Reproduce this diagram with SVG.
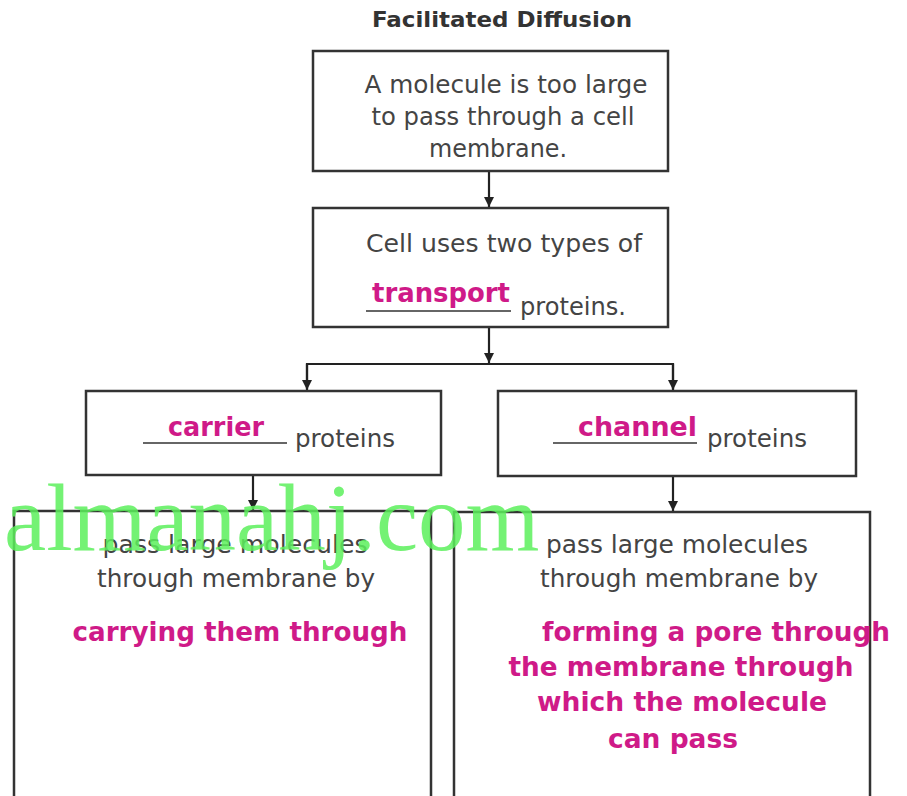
<svg xmlns="http://www.w3.org/2000/svg" width="907" height="796" viewBox="0 0 907 796">
  <defs>
    <marker id="arrow" viewBox="0 0 10 10" refX="10" refY="5" markerWidth="10" markerHeight="10" markerUnits="userSpaceOnUse" orient="auto">
      <path d="M0,0 L10,5 L0,10 z" fill="#222"/>
    </marker>
    <style>
      .box { fill: #fff; stroke: #333; stroke-width: 2.5; }
      .txt { font-family: "DejaVu Sans", "Liberation Sans", sans-serif; font-size: 24px; fill: #444; }
      .ans { font-family: "DejaVu Sans", "Liberation Sans", sans-serif; font-size: 26px; font-weight: bold; fill: #cf1a88; }
      .title { font-family: "DejaVu Sans", "Liberation Sans", sans-serif; font-size: 21px; font-weight: bold; fill: #333; }
      .blank { stroke: #333; stroke-width: 1.5; }
      .conn { stroke: #222; stroke-width: 2.2; fill: none; }
      .mark { font-family: "Liberation Serif", "Times New Roman", serif; font-size: 95px; fill: #5cf05c; opacity: 0.85; }
    </style>
  </defs>
  <rect width="907" height="796" fill="#fff"/>

  <text class="title" x="502" y="27" text-anchor="middle" textLength="260" lengthAdjust="spacingAndGlyphs">Facilitated Diffusion</text>

  <g id="connectors">
    <line class="conn" x1="489" y1="172" x2="489" y2="207" marker-end="url(#arrow)"/>
    <line class="conn" x1="489" y1="327" x2="489" y2="363" marker-end="url(#arrow)"/>
    <polyline class="conn" points="307,389 307,364 673,364 673,389"/>
    <line class="conn" x1="307" y1="364" x2="307" y2="390" marker-end="url(#arrow)"/>
    <line class="conn" x1="673" y1="364" x2="673" y2="390" marker-end="url(#arrow)"/>
    <line class="conn" x1="253" y1="475" x2="253" y2="510" marker-end="url(#arrow)"/>
    <line class="conn" x1="673" y1="476" x2="673" y2="511" marker-end="url(#arrow)"/>
  </g>

  <g id="problem">
    <rect class="box" x="313" y="51" width="355" height="120"/>
    <text class="txt" x="506" y="93" text-anchor="middle" textLength="283" lengthAdjust="spacingAndGlyphs">A molecule is too large</text>
    <text class="txt" x="503" y="125" text-anchor="middle" textLength="263" lengthAdjust="spacingAndGlyphs">to pass through a cell</text>
    <text class="txt" x="498" y="157" text-anchor="middle" textLength="138" lengthAdjust="spacingAndGlyphs">membrane.</text>
  </g>

  <g id="transport">
    <rect class="box" x="313" y="208" width="355" height="119"/>
    <text class="txt" x="504" y="252" text-anchor="middle" textLength="276" lengthAdjust="spacingAndGlyphs">Cell uses two types of</text>
    <text class="ans" x="372" y="302" textLength="138" lengthAdjust="spacingAndGlyphs">transport</text>
    <line class="blank" x1="366" y1="311" x2="511" y2="311"/>
    <text class="txt" x="520" y="315" textLength="106" lengthAdjust="spacingAndGlyphs">proteins.</text>
  </g>

  <g id="carrier">
    <rect class="box" x="86" y="391" width="355" height="84"/>
    <text class="ans" x="168" y="436" textLength="96" lengthAdjust="spacingAndGlyphs">carrier</text>
    <line class="blank" x1="143" y1="443" x2="287" y2="443"/>
    <text class="txt" x="295" y="447" textLength="100" lengthAdjust="spacingAndGlyphs">proteins</text>
  </g>

  <g id="channel">
    <rect class="box" x="498" y="391" width="358" height="85"/>
    <text class="ans" x="578" y="436" textLength="119" lengthAdjust="spacingAndGlyphs">channel</text>
    <line class="blank" x1="553" y1="443" x2="697" y2="443"/>
    <text class="txt" x="707" y="447" textLength="100" lengthAdjust="spacingAndGlyphs">proteins</text>
  </g>

  <g id="carrier-detail">
    <rect class="box" x="14" y="511" width="417" height="300"/>
    <text class="txt" x="235" y="553" text-anchor="middle" textLength="265" lengthAdjust="spacingAndGlyphs">pass large molecules</text>
    <text class="txt" x="236" y="587" text-anchor="middle" textLength="278" lengthAdjust="spacingAndGlyphs">through membrane by</text>
    <text class="ans" x="240" y="641" text-anchor="middle" textLength="335" lengthAdjust="spacingAndGlyphs">carrying them through</text>
  </g>

  <g id="channel-detail">
    <rect class="box" x="454" y="512" width="416" height="300"/>
    <text class="txt" x="677" y="553" text-anchor="middle" textLength="262" lengthAdjust="spacingAndGlyphs">pass large molecules</text>
    <text class="txt" x="679" y="587" text-anchor="middle" textLength="278" lengthAdjust="spacingAndGlyphs">through membrane by</text>
    <text class="ans" x="716" y="641" text-anchor="middle" textLength="348" lengthAdjust="spacingAndGlyphs">forming a pore through</text>
    <text class="ans" x="681" y="676" text-anchor="middle" textLength="345" lengthAdjust="spacingAndGlyphs">the membrane through</text>
    <text class="ans" x="682" y="711" text-anchor="middle" textLength="290" lengthAdjust="spacingAndGlyphs">which the molecule</text>
    <text class="ans" x="673" y="748" text-anchor="middle" textLength="130" lengthAdjust="spacingAndGlyphs">can pass</text>
  </g>

  <text class="mark" x="4" y="550">almanahj.com</text>
</svg>
